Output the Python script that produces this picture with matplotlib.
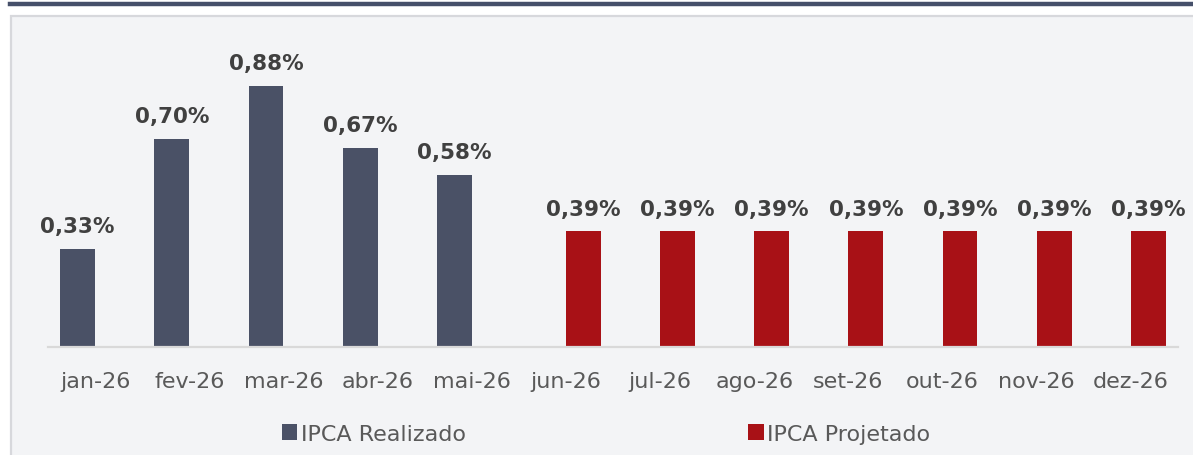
import numpy as np
import matplotlib.pyplot as plt
from matplotlib.patches import Rectangle
from matplotlib.lines import Line2D

# dados
meses = ['jan-26', 'fev-26', 'mar-26', 'abr-26', 'mai-26', 'jun-26',
         'jul-26', 'ago-26', 'set-26', 'out-26', 'nov-26', 'dez-26']
realizado = [0.33, 0.70, 0.88, 0.67, 0.58]
projetado = [0.39, 0.39, 0.39, 0.39, 0.39, 0.39, 0.39]

cor_real = '#4a5166'
cor_proj = '#a81116'
cor_texto = '#404040'
cor_eixo = '#595959'

plt.rcParams['font.family'] = 'DejaVu Sans'

fig = plt.figure(figsize=(11.93, 4.56), dpi=100)
fig.patch.set_facecolor('white')

# faixa superior e painel de fundo
fig.add_artist(Line2D([10/1193, 1], [1 - 5/456, 1 - 5/456], color='#46506a', lw=3.2,
                      zorder=-10))
fig.add_artist(Rectangle((11/1193, -0.01), 1.0, 1 - 17/456 + 0.01, facecolor='#f3f4f6',
                         edgecolor='#d7d8dc', lw=1.6, zorder=-10))

ax = fig.add_axes([48/1193, 1 - 348/456, 1130/1193, 318/456])
ax.set_facecolor('none')

x = np.arange(len(meses))
w = 0.37
xr = x[:len(realizado)] - w/2
xp = x[len(meses) - len(projetado):] + w/2

b1 = ax.bar(xr, realizado, width=w, color=cor_real, label='IPCA Realizado')
b2 = ax.bar(xp, projetado, width=w, color=cor_proj, label='IPCA Projetado')

for xs, vals in ((xr, realizado), (xp, projetado)):
    for xi, v in zip(xs, vals):
        ax.annotate(f'{v:.2f}%'.replace('.', ','), (xi, v), xytext=(0, 12),
                    textcoords='offset points', ha='center', va='baseline',
                    fontsize=15.5, fontweight='bold', color=cor_texto)

ax.set_xlim(-0.5, len(meses) - 0.5)
ax.set_ylim(0, 318/297)
ax.set_xticks(x)
ax.set_xticklabels(meses, fontsize=16, color=cor_eixo)
ax.tick_params(axis='x', length=0, pad=17)
ax.set_yticks([])
for s in ['top', 'right', 'left']:
    ax.spines[s].set_visible(False)
ax.spines['bottom'].set_color('#d9d9d9')
ax.spines['bottom'].set_linewidth(1.6)

leg = fig.legend(handles=[b1, b2], loc='center', bbox_to_anchor=(606/1193, 1 - 435/456),
                 ncol=2, frameon=False, fontsize=16, handlelength=0.7, handleheight=0.7,
                 handletextpad=0.15, columnspacing=12.7)
for t in leg.get_texts():
    t.set_color(cor_eixo)

fig.savefig('out.png', dpi=100)
